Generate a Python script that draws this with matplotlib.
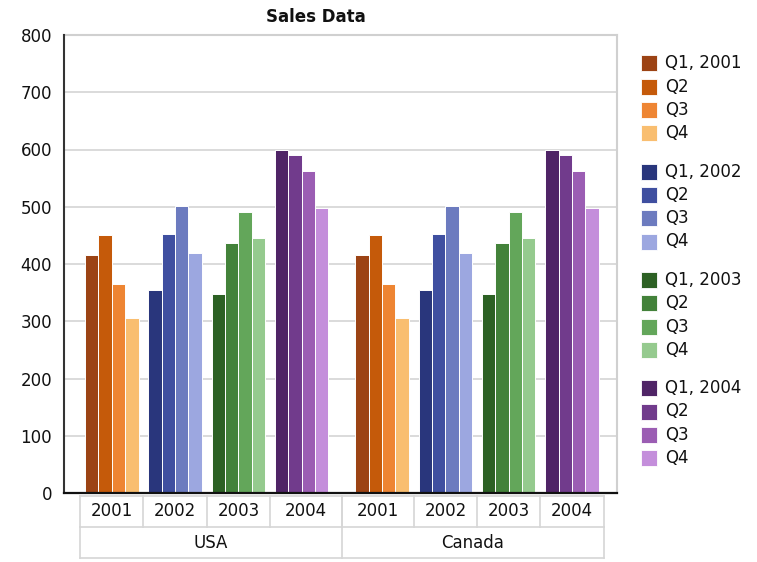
import matplotlib
matplotlib.use("Agg")
import matplotlib.pyplot as plt
from matplotlib.patches import Rectangle

countries = ["USA", "Canada"]
years = ["2001", "2002", "2003", "2004"]
quarters = ["Q1", "Q2", "Q3", "Q4"]

# quarterly sales per year, Q1..Q4
usa_sales = [
    [416, 450, 365, 306],
    [354, 453, 501, 419],
    [348, 436, 491, 446],
    [599, 590, 562, 497],
]
canada_sales = [
    [416, 450, 365, 306],
    [354, 453, 501, 419],
    [348, 436, 491, 446],
    [599, 590, 562, 497],
]

y_ticks = [0, 100, 200, 300, 400, 500, 600, 700, 800]

year_colors = [
    ["#9C4314", "#C55A0A", "#EE8533", "#F9BE70"],
    ["#29367C", "#3F4FA0", "#6C7BBF", "#9CA7E0"],
    ["#2D6124", "#43823A", "#63A65A", "#95CA8E"],
    ["#4F2466", "#713B8C", "#9B5DB3", "#C48EDB"],
]

W, H = 757, 562
fig = plt.figure(figsize=(W / 100, H / 100), dpi=100)
fig.patch.set_facecolor("white")

ax_left, ax_right, ax_top, ax_bottom = 64, 617, 35, 493
ax = fig.add_axes([ax_left / W, 1 - ax_bottom / H,
                   (ax_right - ax_left) / W, (ax_bottom - ax_top) / H])

FS = 12
unit_px = 63.3                 # width of one year group in pixels
bar_step = 0.2117
first_center = 0.755
country_gap = 0.27

all_sales = [usa_sales, canada_sales]
group_centers = []
for c, sales in enumerate(all_sales):
    row = []
    for j, vals in enumerate(sales):
        center = first_center + j + c * (len(years) + country_gap)
        row.append(center)
        for q, v in enumerate(vals):
            ax.bar(center + (q - 1.5) * bar_step, v, width=bar_step,
                   color=year_colors[j][q], edgecolor="white",
                   linewidth=0.7, zorder=3)
    group_centers.append(row)

ax.set_xlim(0, (ax_right - ax_left) / unit_px)
ax.set_ylim(y_ticks[0], y_ticks[-1])
ax.set_yticks(y_ticks)
ax.set_yticklabels([str(t) for t in y_ticks])
ax.set_xticks([])
ax.yaxis.grid(True, color="#d4d4d4", linewidth=1.2)
ax.set_axisbelow(True)
ax.tick_params(axis="y", length=0, pad=8.6, labelsize=FS, colors="#111111")

ax.spines["left"].set_color("#333333")
ax.spines["left"].set_linewidth(1.5)
ax.spines["bottom"].set_color("#111111")
ax.spines["bottom"].set_linewidth(1.6)
for s in ("top", "right"):
    ax.spines[s].set_color("#d0d0d0")
    ax.spines[s].set_linewidth(1.5)
for s in ("left", "bottom"):
    ax.spines[s].set_zorder(6)

# two-level category table under the x axis
tr = ax.get_xaxis_transform()
span = ax_bottom - ax_top
row_top = -(496 - ax_bottom) / span
row_mid = -(527 - ax_bottom) / span
row_bot = -(558 - ax_bottom) / span
line_kw = dict(color="#d6d6d6", linewidth=1.2, transform=tr, clip_on=False)

split = (group_centers[0][-1] + group_centers[1][0]) / 2
usa_edges = [c - 0.5 for c in group_centers[0]] + [split]
can_edges = [split] + [c + 0.5 for c in group_centers[1]]
year_edges = [usa_edges, can_edges]
x_start, x_end = usa_edges[0], can_edges[-1]

for yy in (row_top, row_mid, row_bot):
    ax.plot([x_start, x_end], [yy, yy], **line_kw)
for edges in year_edges:
    for e in edges:
        ax.plot([e, e], [row_top, row_mid], **line_kw)
for e in (x_start, split, x_end):
    ax.plot([e, e], [row_mid, row_bot], **line_kw)

for c, edges in enumerate(year_edges):
    for j, yr in enumerate(years):
        ax.text((edges[j] + edges[j + 1]) / 2, (row_top + row_mid) / 2, yr,
                transform=tr, ha="center", va="center", fontsize=FS,
                color="#111111", clip_on=False)
    ax.text((edges[0] + edges[-1]) / 2, (row_mid + row_bot) / 2, countries[c],
            transform=tr, ha="center", va="center", fontsize=FS,
            color="#111111", clip_on=False)

# legend: one block per year
sw_x, sw_size, txt_x = 641, 16, 665
first_row, row_step, block_step = 63.3, 23.3, 108.3
for j, yr in enumerate(years):
    for q, qn in enumerate(quarters):
        cy = first_row + j * block_step + q * row_step
        fig.patches.append(Rectangle((sw_x / W, 1 - (cy + sw_size / 2) / H),
                                     sw_size / W, sw_size / H,
                                     transform=fig.transFigure,
                                     facecolor=year_colors[j][q],
                                     edgecolor="white", linewidth=0.6))
        label = f"{qn}, {yr}" if q == 0 else qn
        fig.text(txt_x / W, 1 - cy / H, label, ha="left", va="center",
                 fontsize=FS, color="#111111")

fig.text(315.5 / W, 1 - 17.5 / H, "Sales Data", ha="center", va="center",
         fontsize=FS, fontweight="bold", color="#111111")

fig.savefig("out.png", dpi=100)
